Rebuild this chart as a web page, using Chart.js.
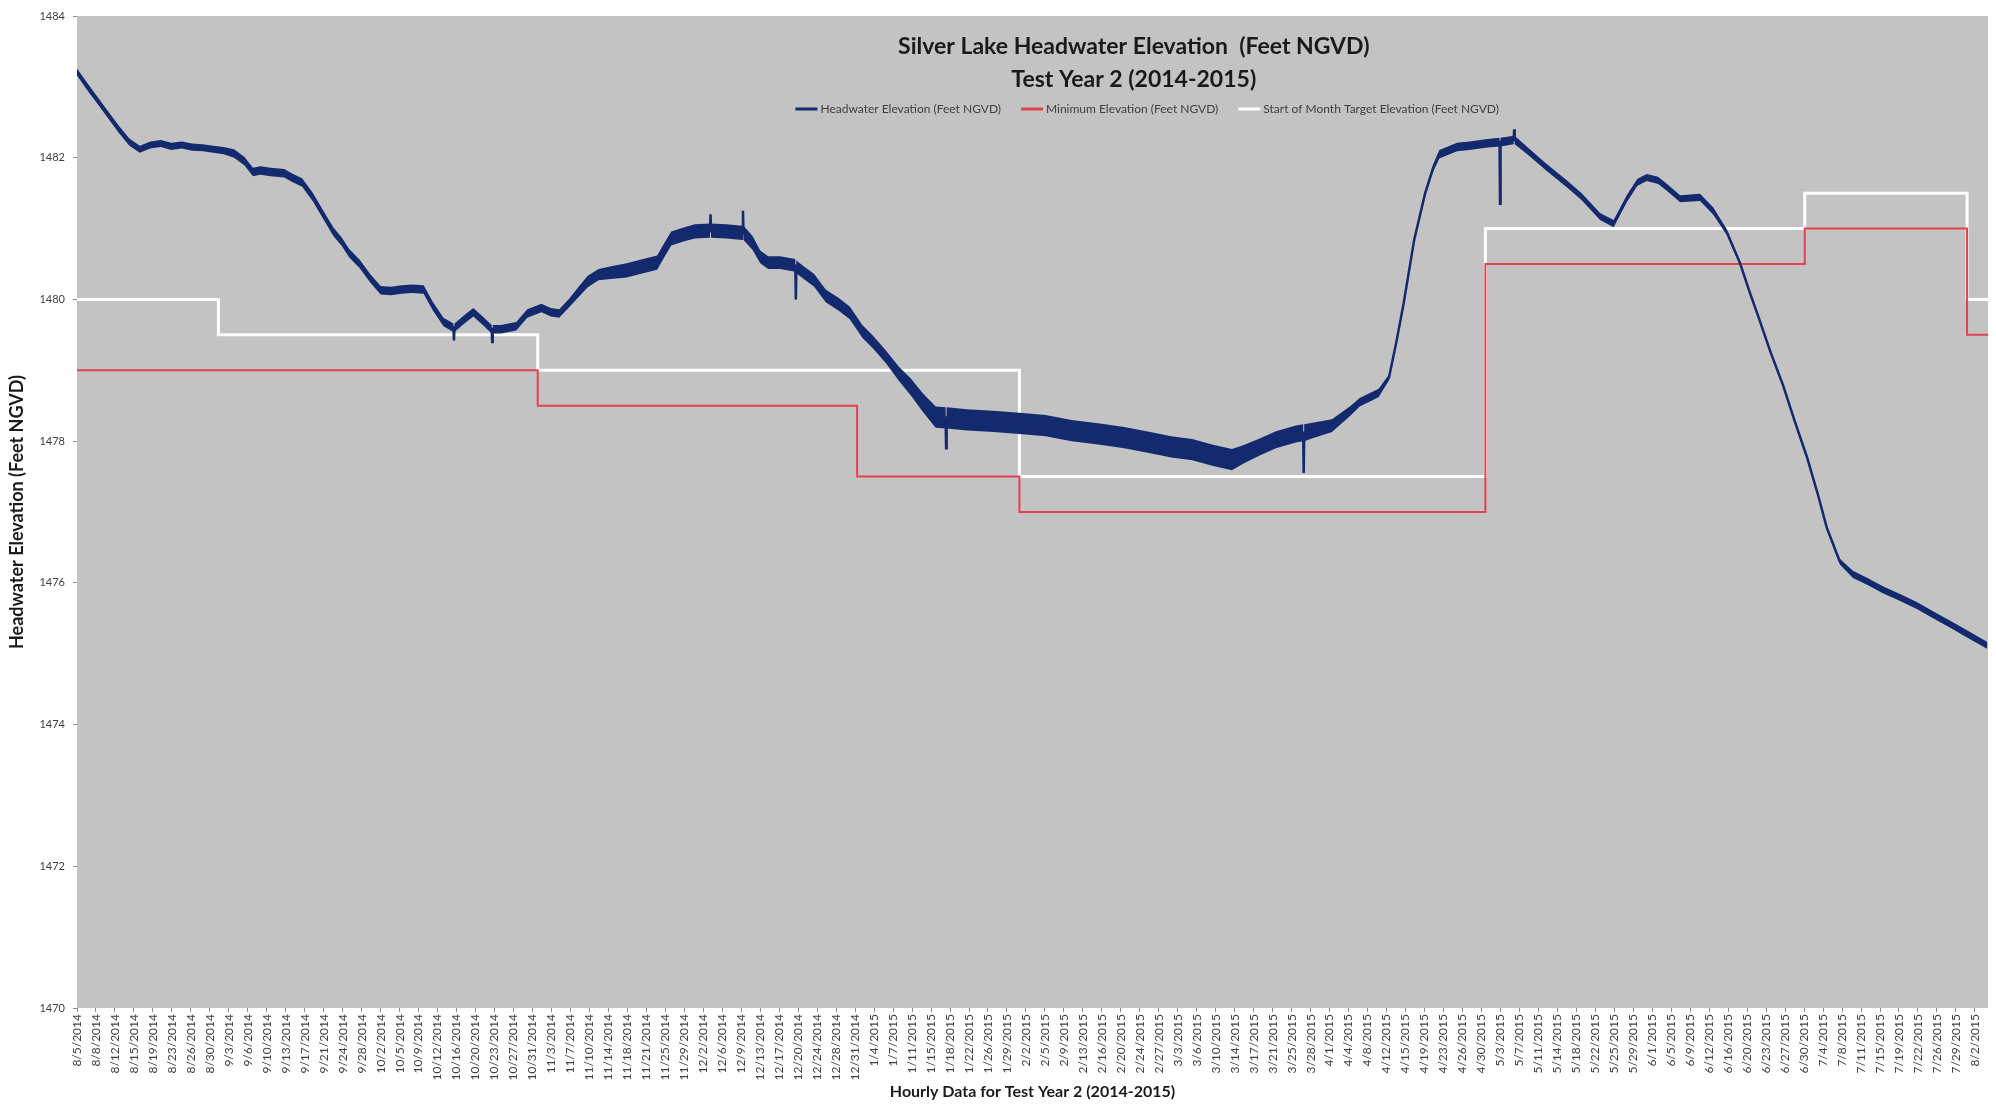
<!DOCTYPE html>
<html>
<head>
<meta charset="utf-8">
<title>Silver Lake Headwater Elevation</title>
<script src="https://cdn.jsdelivr.net/npm/chart.js@4.4.1/dist/chart.umd.min.js"></script>
<style>
  html, body { margin: 0; padding: 0; background: #fff; }
  #wrap { width: 1996px; height: 1111px; }
</style>
</head>
<body>
<div id="wrap"><canvas id="chart"></canvas></div>
<script>
// Days counted from 8/5/2014 00:00
const hwDays = [
  0, 2, 4, 6, 8, 10, 12, 14, 16, 18, 20, 22, 24, 26, 28,
  30, 32, 33.6, 35, 37, 39.6, 41, 43, 45, 47, 49, 50.5, 52, 54, 56, 58,
  60, 62, 64, 66.2, 68, 70, 71.9, 72, 72.1, 74, 75.7, 77.5, 79.2, 79.3, 79.4,
  81, 83.9, 86, 88.7, 90.5, 92.1, 94, 95.5, 97.5, 99.6,
  102, 105, 107, 110.8, 112.2, 113.5, 116, 118, 120.9, 121, 121.1, 124,
  127.1, 127.2, 127.3, 129, 130.5, 132, 134.3, 137.2, 137.3, 137.4, 138.8, 140.8,
  143, 145.5, 147.6, 150, 152, 154.5, 157, 159.3, 161.5, 164, 165.9, 166, 166.1,
  170, 175, 180, 185, 190, 195.4, 200, 205, 209, 213, 217, 220.6, 223, 226, 229,
  232.8, 234.2, 234.3, 234.4, 236, 239.7, 243.1, 245, 248.6, 250.6, 252, 253.4,
  255.4, 257.5, 259, 260.2, 263.6, 266, 269, 271.7, 271.8, 271.9, 274.4, 274.5, 274.6,
  277, 280.6, 284.6, 287.4, 290.9, 293.5, 296, 298, 299.8, 302, 303.7, 306.2,
  310, 312.5, 315.1, 317.6, 319.5, 321.4, 323.5, 325.9, 328, 330.4, 332.5, 334.2,
  336.7, 339.2, 342, 345, 348, 351.4, 354.5, 357.7, 361, 364.8
]
const hwLevel = [
  1483.21, 1483.0, 1482.8, 1482.6, 1482.4, 1482.22, 1482.12, 1482.18, 1482.2, 1482.16, 1482.18, 1482.15, 1482.14, 1482.12, 1482.1,
  1482.06, 1481.95, 1481.8, 1481.82, 1481.8, 1481.78, 1481.72, 1481.65, 1481.45, 1481.2, 1480.95, 1480.82, 1480.65, 1480.5, 1480.3, 1480.13,
  1480.12, 1480.14, 1480.15, 1480.14, 1479.9, 1479.68, 1479.6, 1479.42, 1479.6, 1479.72, 1479.82, 1479.7, 1479.58, 1479.4, 1479.58,
  1479.58, 1479.62, 1479.8, 1479.88, 1479.82, 1479.8, 1479.95, 1480.08, 1480.25, 1480.35,
  1480.38, 1480.41, 1480.45, 1480.52, 1480.7, 1480.86, 1480.92, 1480.96, 1480.97, 1481.2, 1480.97, 1480.96,
  1480.94, 1481.25, 1480.94, 1480.8, 1480.6, 1480.52, 1480.52, 1480.48, 1480.0, 1480.46, 1480.38, 1480.27,
  1480.05, 1479.93, 1479.81, 1479.55, 1479.4, 1479.19, 1478.95, 1478.76, 1478.55, 1478.34, 1478.33, 1477.9, 1478.33,
  1478.3, 1478.28, 1478.25, 1478.22, 1478.15, 1478.1, 1478.05, 1477.98, 1477.92, 1477.88, 1477.8, 1477.74, 1477.82, 1477.92, 1478.02,
  1478.1, 1478.12, 1477.55, 1478.12, 1478.15, 1478.22, 1478.42, 1478.55, 1478.68, 1478.9, 1479.4, 1479.95,
  1480.84, 1481.5, 1481.85, 1482.05, 1482.15, 1482.17, 1482.2, 1482.22, 1481.35, 1482.22, 1482.25, 1482.4, 1482.25,
  1482.1, 1481.87, 1481.63, 1481.45, 1481.17, 1481.07, 1481.42, 1481.65, 1481.72, 1481.68, 1481.58, 1481.42,
  1481.44, 1481.25, 1480.95, 1480.52, 1480.1, 1479.7, 1479.25, 1478.78, 1478.3, 1477.78, 1477.25, 1476.78,
  1476.3, 1476.12, 1476.02, 1475.9, 1475.8, 1475.68, 1475.55, 1475.42, 1475.28, 1475.12
]
// half-range of the hourly scatter around the level (feet)
const hwSpread = [
  0.05, 0.05, 0.05, 0.05, 0.05, 0.05, 0.05, 0.05, 0.05, 0.05, 0.05, 0.05, 0.05, 0.05, 0.05,
  0.06, 0.06, 0.06, 0.06, 0.06, 0.06, 0.06, 0.06, 0.06, 0.06, 0.06, 0.06, 0.06, 0.06, 0.06, 0.06,
  0.06, 0.06, 0.06, 0.06, 0.06, 0.06, 0.06, 0, 0.06, 0.06, 0.06, 0.06, 0.06, 0, 0.06,
  0.06, 0.06, 0.06, 0.06, 0.06, 0.06, 0.06, 0.07, 0.08, 0.08,
  0.09, 0.1, 0.1, 0.1, 0.1, 0.1, 0.1, 0.1, 0.1, 0, 0.1, 0.1,
  0.1, 0, 0.1, 0.1, 0.09, 0.09, 0.09, 0.09, 0, 0.09, 0.09, 0.09,
  0.09, 0.09, 0.09, 0.09, 0.09, 0.09, 0.1, 0.12, 0.13, 0.15, 0.15, 0, 0.15,
  0.15, 0.15, 0.15, 0.15, 0.15, 0.15, 0.15, 0.15, 0.15, 0.15, 0.15, 0.15, 0.13, 0.12, 0.12,
  0.12, 0.12, 0, 0.12, 0.11, 0.09, 0.07, 0.06, 0.06, 0.04, 0.04, 0.04,
  0.04, 0.04, 0.05, 0.06, 0.06, 0.06, 0.06, 0.06, 0, 0.06, 0.06, 0, 0.06,
  0.05, 0.05, 0.05, 0.05, 0.05, 0.05, 0.05, 0.05, 0.05, 0.05, 0.05, 0.05,
  0.05, 0.05, 0.04, 0.03, 0.03, 0.03, 0.03, 0.03, 0.03, 0.03, 0.03, 0.03,
  0.04, 0.05, 0.05, 0.05, 0.05, 0.05, 0.05, 0.05, 0.05, 0.05
]

// Month boundaries (days from 8/5/2014) and the levels that start there
const minDays = [0, 88, 149, 180, 269, 330, 361, 365]
const minLevel = [1479, 1478.5, 1477.5, 1477, 1480.5, 1481, 1479.5, 1479.5]
const targetDays = [0, 27, 88, 180, 269, 330, 361, 365]
const targetLevel = [1480, 1479.5, 1479, 1477.5, 1481, 1481.5, 1480, 1480]

const tickLabels = [
  '8/5/2014', '8/8/2014', '8/12/2014', '8/15/2014', '8/19/2014', '8/23/2014', '8/26/2014', '8/30/2014',
  '9/3/2014', '9/6/2014', '9/10/2014', '9/13/2014', '9/17/2014', '9/21/2014', '9/24/2014', '9/28/2014',
  '10/2/2014', '10/5/2014', '10/9/2014', '10/12/2014', '10/16/2014', '10/20/2014', '10/23/2014', '10/27/2014', '10/31/2014',
  '11/3/2014', '11/7/2014', '11/10/2014', '11/14/2014', '11/18/2014', '11/21/2014', '11/25/2014', '11/29/2014',
  '12/2/2014', '12/6/2014', '12/9/2014', '12/13/2014', '12/17/2014', '12/20/2014', '12/24/2014', '12/28/2014', '12/31/2014',
  '1/4/2015', '1/7/2015', '1/11/2015', '1/15/2015', '1/18/2015', '1/22/2015', '1/26/2015', '1/29/2015',
  '2/2/2015', '2/5/2015', '2/9/2015', '2/13/2015', '2/16/2015', '2/20/2015', '2/24/2015', '2/27/2015',
  '3/3/2015', '3/6/2015', '3/10/2015', '3/14/2015', '3/17/2015', '3/21/2015', '3/25/2015', '3/28/2015',
  '4/1/2015', '4/4/2015', '4/8/2015', '4/12/2015', '4/15/2015', '4/19/2015', '4/23/2015', '4/26/2015', '4/30/2015',
  '5/3/2015', '5/7/2015', '5/11/2015', '5/14/2015', '5/18/2015', '5/22/2015', '5/25/2015', '5/29/2015',
  '6/1/2015', '6/5/2015', '6/9/2015', '6/12/2015', '6/16/2015', '6/20/2015', '6/23/2015', '6/27/2015', '6/30/2015',
  '7/4/2015', '7/8/2015', '7/11/2015', '7/15/2015', '7/19/2015', '7/22/2015', '7/26/2015', '7/29/2015', '8/2/2015'
]
const tickStepDays = 87 / 24 // a label every 87th hourly row

const NAVY = '#142a6e'
const RED = '#e2434f'
const FONT = 'Lato, "Open Sans", sans-serif'

const toPoints = (xs, ys) => xs.map((x, i) => ({ x, y: ys[i] }))

// Gray plot area plus the title and legend that sit inside it
const plotDecor = {
  id: 'plotDecor',
  beforeDraw (chart, args, opts) {
    const { ctx, chartArea: a } = chart
    ctx.save()
    ctx.fillStyle = opts.background
    ctx.fillRect(a.left, a.top, a.right - a.left, a.bottom - a.top)
    ctx.restore()
  },
  afterDraw (chart, args, opts) {
    const { ctx, chartArea: a } = chart
    const w = a.right - a.left
    ctx.save()
    ctx.fillStyle = '#1a1a1a'
    ctx.textAlign = 'center'
    ctx.textBaseline = 'middle'
    ctx.font = `bold 23px ${FONT}`
    const tx = a.left + w * opts.titleX
    opts.title.forEach((line, i) => ctx.fillText(line, tx, a.top + 31 + i * 33))

    // legend
    const items = chart.data.datasets.filter(ds => !ds.hideInLegend)
    ctx.font = `12px ${FONT}`
    const sample = 22
    const gap = 3
    const spacing = 20
    const widths = items.map(ds => sample + gap + ctx.measureText(ds.label).width)
    const total = widths.reduce((s, v) => s + v, 0) + spacing * (items.length - 1)
    let x = a.left + w * opts.legendX - total / 2
    const y = a.top + 93
    ctx.textAlign = 'left'
    items.forEach((ds, i) => {
      ctx.strokeStyle = ds.borderColor
      ctx.lineWidth = 3
      ctx.beginPath()
      ctx.moveTo(x, y)
      ctx.lineTo(x + sample, y)
      ctx.stroke()
      ctx.fillStyle = '#404040'
      ctx.fillText(ds.label, x + sample + gap, y)
      x += widths[i] + spacing
    })
    ctx.restore()
  }
}

new Chart(document.getElementById('chart'), {
  type: 'line',
  data: {
    datasets: [
      {
        label: 'Headwater Elevation (Feet NGVD)',
        data: toPoints(hwDays, hwLevel),
        borderColor: NAVY,
        borderWidth: 2.5
      },
      {
        label: 'hourly high',
        hideInLegend: true,
        data: toPoints(hwDays, hwLevel.map((v, i) => v + hwSpread[i])),
        borderColor: 'transparent',
        borderWidth: 0,
        fill: false
      },
      {
        label: 'hourly low',
        hideInLegend: true,
        data: toPoints(hwDays, hwLevel.map((v, i) => v - hwSpread[i])),
        borderColor: 'transparent',
        borderWidth: 0,
        backgroundColor: NAVY,
        fill: '-1'
      },
      {
        label: 'Minimum Elevation (Feet NGVD)',
        data: toPoints(minDays, minLevel),
        stepped: true,
        borderColor: RED,
        borderWidth: 2
      },
      {
        label: 'Start of Month Target Elevation (Feet NGVD)',
        data: toPoints(targetDays, targetLevel),
        stepped: true,
        borderColor: '#ffffff',
        borderWidth: 3
      }
    ]
  },
  options: {
    responsive: true,
    maintainAspectRatio: false,
    animation: false,
    layout: { padding: { left: 0, right: 8, top: 16, bottom: 0 } },
    elements: { point: { radius: 0 }, line: { tension: 0 } },
    plugins: {
      legend: { display: false },
      tooltip: { enabled: false },
      plotDecor: {
        background: '#c3c3c3',
        title: ['Silver Lake Headwater Elevation  (Feet NGVD)', 'Test Year 2 (2014-2015)'],
        titleX: 0.553,
        legendX: 0.56
      }
    },
    scales: {
      x: {
        type: 'linear',
        min: 0,
        max: 365,
        afterBuildTicks: (scale) => {
          scale.ticks = tickLabels.map((_, i) => ({ value: i * tickStepDays }))
        },
        afterFit: (scale) => { scale.height = 103 },
        ticks: {
          autoSkip: false,
          minRotation: 90,
          maxRotation: 90,
          padding: 2,
          color: '#404040',
          font: { family: FONT, size: 12 },
          callback: (value, index) => tickLabels[index]
        },
        grid: { drawOnChartArea: false, drawTicks: true, tickLength: 4, color: '#8c8c8c' },
        border: { display: false },
        title: {
          display: true,
          text: 'Hourly Data for Test Year 2 (2014-2015)',
          color: '#1a1a1a',
          font: { family: FONT, size: 16, weight: 'bold' },
          padding: { top: 0, bottom: 10 }
        }
      },
      y: {
        min: 1470,
        max: 1484,
        afterFit: (scale) => { scale.width = 77 },
        ticks: {
          stepSize: 2,
          padding: 8,
          color: '#404040',
          font: { family: FONT, size: 11 },
          callback: (value) => String(value)
        },
        grid: { drawOnChartArea: false, drawTicks: true, tickLength: 4, color: '#8c8c8c' },
        border: { display: false },
        title: {
          display: true,
          text: 'Headwater Elevation (Feet NGVD)',
          color: '#1a1a1a',
          font: { family: FONT, size: 18, weight: 'bold' },
          padding: { top: 6, bottom: 0 }
        }
      }
    }
  },
  plugins: [plotDecor]
})
</script>
</body>
</html>
